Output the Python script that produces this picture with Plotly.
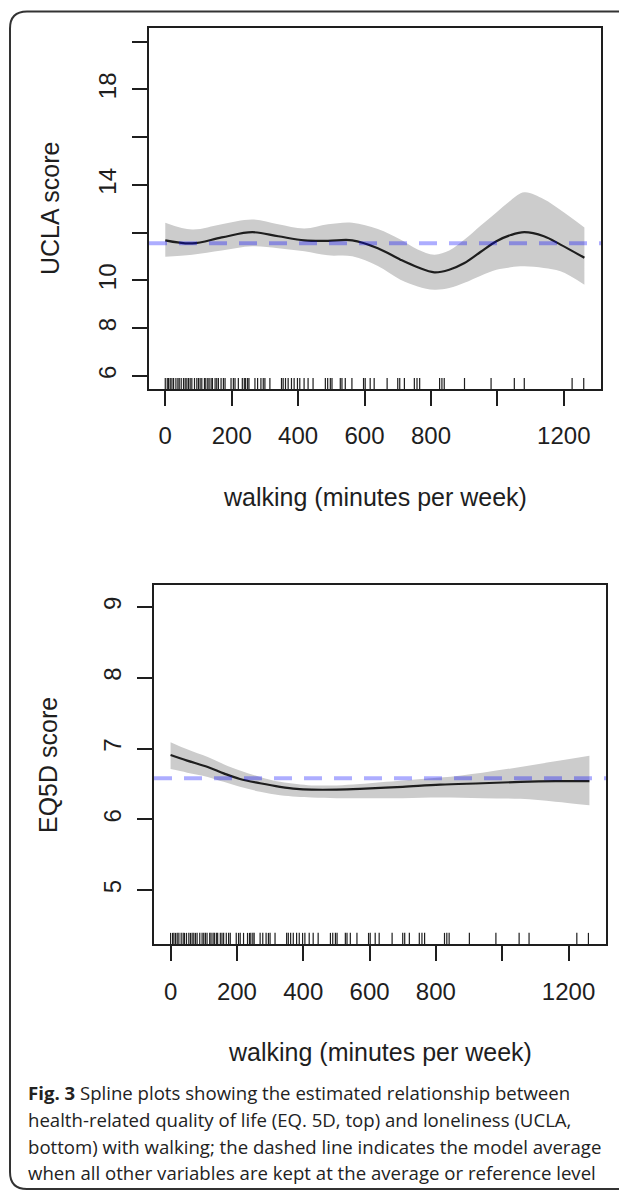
import plotly.graph_objects as go

# page body has an 8px default margin; the figure is offset by it
OFF = 8
W, H = 627 - 2 * OFF, 1192 - OFF

# ---------------- data ----------------
walk_rug = [0, 6, 10, 15, 20, 25, 32, 38, 42, 48, 55, 60, 65, 70, 75, 80, 88, 95,
            100, 105, 110, 118, 122, 128, 132, 138, 142, 150, 155, 160, 168, 175,
            180, 198, 205, 210, 220, 232, 238, 242, 248, 252, 270, 278, 288, 295,
            300, 315, 350, 355, 362, 370, 380, 388, 398, 405, 418, 430, 445, 482,
            489, 497, 502, 527, 532, 542, 562, 597, 602, 617, 629, 668, 700, 706,
            720, 750, 758, 766, 826, 833, 840, 901, 981, 1051, 1081, 1225, 1260]

ucla_x = [0, 81, 170, 262, 340, 419, 490, 563, 640, 708, 760, 810, 855, 901,
          950, 997, 1040, 1081, 1140, 1190, 1262]
ucla_fit = [11.68, 11.55, 11.80, 12.02, 11.85, 11.68, 11.66, 11.68, 11.35, 10.87,
            10.55, 10.34, 10.45, 10.73, 11.20, 11.64, 11.90, 12.02, 11.85, 11.50, 10.95]
ucla_upper = [12.42, 12.13, 12.35, 12.55, 12.35, 12.17, 12.35, 12.42, 12.15, 11.71,
              11.30, 11.08, 11.25, 11.71, 12.30, 12.85, 13.35, 13.69, 13.40, 12.95, 12.22]
ucla_lower = [10.99, 11.08, 11.25, 11.43, 11.35, 11.22, 11.05, 11.01, 10.60, 10.03,
              9.75, 9.61, 9.68, 9.90, 10.20, 10.45, 10.55, 10.59, 10.52, 10.38, 9.82]
ucla_avg = 11.56

eq_x = [0, 50, 112, 160, 209, 270, 330, 380, 426, 500, 571, 700, 813, 940, 1055, 1160, 1263]
eq_fit = [6.91, 6.83, 6.74, 6.65, 6.57, 6.51, 6.46, 6.43, 6.42, 6.42, 6.43, 6.46,
          6.49, 6.51, 6.53, 6.54, 6.54]
eq_upper = [7.09, 6.99, 6.88, 6.78, 6.69, 6.60, 6.53, 6.50, 6.48, 6.48, 6.50, 6.55,
            6.59, 6.66, 6.74, 6.82, 6.90]
eq_lower = [6.71, 6.66, 6.60, 6.53, 6.46, 6.39, 6.34, 6.32, 6.31, 6.30, 6.30, 6.30,
            6.31, 6.30, 6.29, 6.25, 6.20]
eq_avg = 6.58

x_ticks = [0, 200, 400, 600, 800, 1000, 1200]
x_ticktext = ["0", "200", "400", "600", "800", "", "1200"]
ucla_ticks = [6, 8, 10, 12, 14, 16, 18, 20]
ucla_ticktext = ["6", "8", "10", "", "14", "", "18", ""]
eq_ticks = [5, 6, 7, 8, 9]
eq_ticktext = ["5", "6", "7", "8", "9"]

x_title = "walking (minutes per week)"
ucla_title = "UCLA score"
eq_title = "EQ5D score"
caption_lines = [
    "<b>Fig. 3</b> Spline plots showing the estimated relationship between",
    "health-related quality of life (EQ. 5D, top) and loneliness (UCLA,",
    "bottom) with walking; the dashed line indicates the model average",
    "when all other variables are kept at the average or reference level",
]

# ---------------- styling ----------------
INK = "#1e1e1e"
BAND = "#cccccc"
AVG = "rgba(0,0,255,0.32)"
AXFONT = "Liberation Sans, Arial, sans-serif"
CAPFONT = "Open Sans, sans-serif"

ucla_range = [5.44, 20.56]
eq_range = [4.24, 9.31]
x_range1 = [-49, 1312]
x_range2 = [-50, 1313]
RUG_FRAC = 0.031


def px_x(p):
    return (p - OFF) / W


def px_y(p):
    return 1 - (p - OFF) / H


def rug_xy(values, yr):
    xs, ys = [], []
    y0 = yr[0]
    y1 = yr[0] + RUG_FRAC * (yr[1] - yr[0])
    for v in values:
        xs += [v, v, None]
        ys += [y0, y1, None]
    return xs, ys


fig = go.Figure()

panels = [
    ("x", "y", ucla_x, ucla_fit, ucla_upper, ucla_lower, ucla_range),
    ("x2", "y2", eq_x, eq_fit, eq_upper, eq_lower, eq_range),
]
for xa, ya, xs, fit, up, lo, yr in panels:
    fig.add_trace(go.Scatter(x=xs, y=lo, xaxis=xa, yaxis=ya, mode="lines",
                             line=dict(color=BAND, width=0, shape="spline"),
                             hoverinfo="skip", showlegend=False))
    fig.add_trace(go.Scatter(x=xs, y=up, xaxis=xa, yaxis=ya, mode="lines",
                             line=dict(color=BAND, width=0, shape="spline"),
                             fill="tonexty", fillcolor=BAND,
                             hoverinfo="skip", showlegend=False))
    fig.add_trace(go.Scatter(x=xs, y=fit, xaxis=xa, yaxis=ya, mode="lines",
                             line=dict(color=INK, width=2.2, shape="spline"),
                             showlegend=False))
    rx, ry = rug_xy(walk_rug, yr)
    fig.add_trace(go.Scatter(x=rx, y=ry, xaxis=xa, yaxis=ya, mode="lines",
                             line=dict(color=INK, width=1.2),
                             hoverinfo="skip", showlegend=False))

# model-average dashed lines
for ya, xa, val in [("y", "x", ucla_avg), ("y2", "x2", eq_avg)]:
    fig.add_shape(type="line", xref=f"{xa} domain", yref=ya, x0=0, x1=1, y0=val, y1=val,
                  line=dict(color=AVG, width=4, dash="18px,12px"), layer="above")

axis_common = dict(showgrid=False, zeroline=False, showline=True, mirror=True,
                   linecolor=INK, linewidth=2, ticks="outside", ticklen=15,
                   tickwidth=2, tickcolor=INK,
                   tickfont=dict(family=AXFONT, size=24, color=INK))

fig.update_layout(
    width=W, height=H, autosize=False,
    margin=dict(l=0, r=0, t=0, b=0),
    paper_bgcolor="white", plot_bgcolor="white",
    showlegend=False,
    xaxis=dict(domain=[px_x(149), px_x(601)], anchor="y", range=x_range1,
               tickmode="array", tickvals=x_ticks, ticktext=x_ticktext,
               ticklabelstandoff=9, **axis_common),
    yaxis=dict(domain=[px_y(389.3), px_y(28.3)], anchor="x", range=ucla_range,
               tickmode="array", tickvals=ucla_ticks, ticktext=ucla_ticktext,
               tickangle=-90, ticklabelstandoff=6, **axis_common),
    xaxis2=dict(domain=[px_x(154), px_x(606)], anchor="y2", range=x_range2,
                tickmode="array", tickvals=x_ticks, ticktext=x_ticktext,
                ticklabelstandoff=10, **axis_common),
    yaxis2=dict(domain=[px_y(944), px_y(585)], anchor="x2", range=eq_range,
                tickmode="array", tickvals=eq_ticks, ticktext=eq_ticktext,
                tickangle=-90, ticklabelstandoff=6, **axis_common),
)

title_font = dict(family=AXFONT, size=25, color=INK)
ann = [
    dict(text=x_title, x=px_x(375), y=px_y(497), xref="paper", yref="paper",
         showarrow=False, xanchor="center", yanchor="middle", font=title_font),
    dict(text=x_title, x=px_x(380), y=px_y(1052), xref="paper", yref="paper",
         showarrow=False, xanchor="center", yanchor="middle", font=title_font),
    dict(text=ucla_title, x=px_x(50), y=px_y(209), xref="paper", yref="paper",
         showarrow=False, xanchor="center", yanchor="middle", textangle=-90,
         font=title_font),
    dict(text=eq_title, x=px_x(48), y=px_y(765), xref="paper", yref="paper",
         showarrow=False, xanchor="center", yanchor="middle", textangle=-90,
         font=title_font),
]
cap_mid = [1092.5, 1119.5, 1146.5, 1172.5]
for line, ym in zip(caption_lines, cap_mid):
    ann.append(dict(text=line, x=px_x(26), y=px_y(ym), xref="paper", yref="paper",
                    showarrow=False, xanchor="left", yanchor="middle",
                    font=dict(family=CAPFONT, size=18.6, color="#222")))
fig.update_layout(annotations=ann)

# rounded outer frame (right edge runs off the image)
r = 17
L, T, B, R = 10, 11.5, 1189, 660
path = (f"M {px_x(R)},{px_y(T)} L {px_x(L + r)},{px_y(T)} "
        f"Q {px_x(L)},{px_y(T)} {px_x(L)},{px_y(T + r)} "
        f"L {px_x(L)},{px_y(B - r)} "
        f"Q {px_x(L)},{px_y(B)} {px_x(L + r)},{px_y(B)} "
        f"L {px_x(R)},{px_y(B)}")
fig.add_shape(type="path", xref="paper", yref="paper", path=path,
              line=dict(color="#333333", width=2))

fig.write_html("out.html")
